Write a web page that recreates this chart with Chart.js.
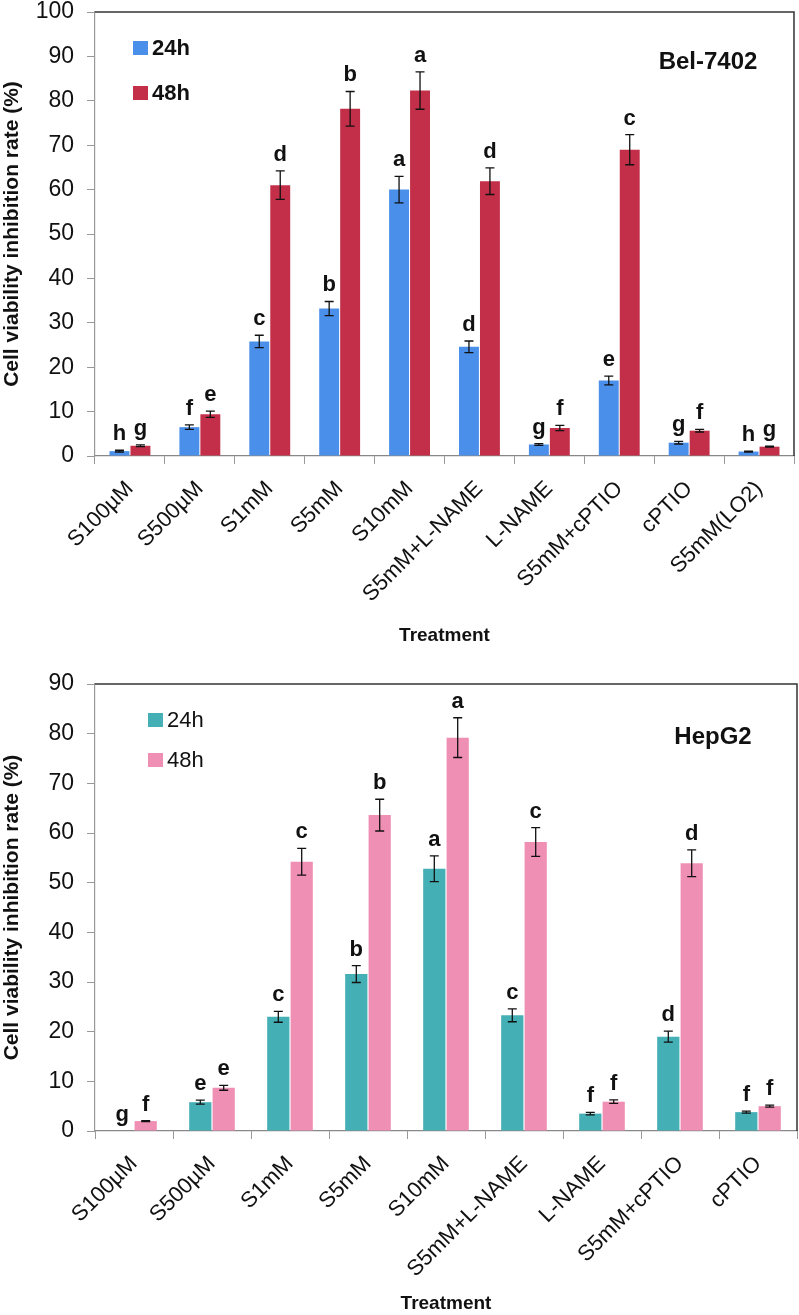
<!DOCTYPE html>
<html>
<head>
<meta charset="utf-8">
<script src="https://cdn.jsdelivr.net/npm/chart.js@4.4.1/dist/chart.umd.min.js"></script>
<style>
html, body { margin: 0; padding: 0; background: #fff; }
canvas { display: block; }
</style>
</head>
<body>
<canvas id="bel" width="799" height="660"></canvas>
<canvas id="hep" width="799" height="655"></canvas>
<script>
// Bel-7402 panel
const belLabels = ["S100\u00b5M", "S500\u00b5M", "S1mM", "S5mM", "S10mM", "S5mM+L-NAME", "L-NAME", "S5mM+cPTIO", "cPTIO", "S5mM(LO2)"]
const bel24 = [1.1, 6.5, 25.8, 33.2, 60.0, 24.6, 2.6, 17.0, 3.0, 1.0]
const bel24Err = [0.2, 0.5, 1.4, 1.6, 3.0, 1.3, 0.2, 1.0, 0.3, 0.1]
const bel24Sig = ["h", "f", "c", "b", "a", "d", "g", "e", "g", "h"]
const bel48 = [2.3, 9.4, 61.0, 78.2, 82.3, 61.9, 6.3, 69.0, 5.7, 2.1]
const bel48Err = [0.2, 0.7, 3.2, 3.9, 4.2, 3.0, 0.6, 3.4, 0.3, 0.1]
const bel48Sig = ["g", "e", "d", "b", "a", "d", "f", "c", "f", "g"]
const belTicks = [0, 10, 20, 30, 40, 50, 60, 70, 80, 90, 100]

// HepG2 panel
const hepLabels = ["S100\u00b5M", "S500\u00b5M", "S1mM", "S5mM", "S10mM", "S5mM+L-NAME", "L-NAME", "S5mM+cPTIO", "cPTIO"]
const hep24 = [0, 5.8, 23.0, 31.6, 52.8, 23.3, 3.5, 19.0, 3.8]
const hep24Err = [0, 0.4, 1.1, 1.7, 2.6, 1.3, 0.25, 1.1, 0.2]
const hep24Sig = ["g", "e", "c", "b", "a", "c", "f", "d", "f"]
const hep48 = [2.0, 8.7, 54.2, 63.6, 79.2, 58.2, 5.9, 53.9, 5.0]
const hep48Err = [0.1, 0.5, 2.7, 3.2, 4.0, 2.9, 0.35, 2.7, 0.2]
const hep48Sig = ["f", "e", "c", "b", "a", "c", "f", "d", "f"]
const hepTicks = [0, 10, 20, 30, 40, 50, 60, 70, 80, 90]

const FONT = "'Liberation Sans', Arial, sans-serif"

// error bars, significance letters, frame, legend and cell-line name
const marksPlugin = {
    id: "marks",
    afterDatasetsDraw(chart, args, opts) {
        const ctx = chart.ctx
        const y = chart.scales.y
        const area = chart.chartArea
        ctx.save()
        chart.data.datasets.forEach((ds, i) => {
            const meta = chart.getDatasetMeta(i)
            meta.data.forEach((bar, j) => {
                const v = ds.data[j]
                const e = opts.errors[i][j]
                const top = y.getPixelForValue(v + e)
                const bot = y.getPixelForValue(v - e)
                if (e > 0) {
                    ctx.strokeStyle = "#111"
                    ctx.lineWidth = 1.3
                    ctx.beginPath()
                    ctx.moveTo(bar.x, top)
                    ctx.lineTo(bar.x, bot)
                    ctx.moveTo(bar.x - 4.5, top)
                    ctx.lineTo(bar.x + 4.5, top)
                    ctx.moveTo(bar.x - 4.5, bot)
                    ctx.lineTo(bar.x + 4.5, bot)
                    ctx.stroke()
                }
                ctx.fillStyle = "#111"
                ctx.font = "bold 22px " + FONT
                ctx.textAlign = "center"
                ctx.textBaseline = "alphabetic"
                ctx.fillText(opts.letters[i][j], bar.x, top - 10)
            })
        })

        // top and right frame lines
        ctx.strokeStyle = "#333"
        ctx.lineWidth = 1.5
        ctx.beginPath()
        ctx.moveTo(area.left, area.top)
        ctx.lineTo(area.right, area.top)
        ctx.lineTo(area.right, area.bottom)
        ctx.stroke()

        // legend
        const lg = opts.legend
        chart.data.datasets.forEach((ds, i) => {
            const cy = area.top + lg.top + i * lg.gap
            ctx.fillStyle = ds.backgroundColor
            ctx.fillRect(area.left + lg.left, cy - 7, 15, 14)
            ctx.fillStyle = "#111"
            ctx.font = (lg.bold ? "bold " : "") + "22px " + FONT
            ctx.textAlign = "left"
            ctx.textBaseline = "middle"
            ctx.fillText(ds.label, area.left + lg.left + 19, cy + 1)
        })

        // cell line name
        ctx.font = "bold 24px " + FONT
        ctx.textAlign = "center"
        ctx.textBaseline = "middle"
        ctx.fillText(opts.cell.text, area.right - opts.cell.right, area.top + opts.cell.top)
        ctx.restore()
    },
}

function makeChart(id, labels, s24, s48, colors, ticks, max, layout, extra) {
    return new Chart(document.getElementById(id), {
        type: "bar",
        data: {
            labels: labels,
            datasets: [
                { label: "24h", data: s24, backgroundColor: colors[0], categoryPercentage: 0.6, barPercentage: 0.95 },
                { label: "48h", data: s48, backgroundColor: colors[1], categoryPercentage: 0.6, barPercentage: 0.95 },
            ],
        },
        options: {
            responsive: false,
            animation: false,
            layout: { padding: layout.padding },
            plugins: {
                legend: { display: false },
                tooltip: { enabled: false },
                marks: extra,
            },
            scales: {
                x: {
                    grid: { offset: true, drawOnChartArea: false, tickLength: 8, color: "#999" },
                    border: { color: "#888", width: 1.2 },
                    ticks: {
                        color: "#111",
                        font: { family: FONT, size: 22 },
                        minRotation: 45,
                        maxRotation: 45,
                        autoSkip: false,
                        padding: 12,
                    },
                    title: {
                        display: true,
                        text: "Treatment",
                        color: "#111",
                        font: { family: FONT, size: 19, weight: "bold" },
                        padding: 0,
                    },
                    afterFit: (s) => {
                        s.height = layout.xHeight
                        s.paddingLeft = 0
                        s.paddingRight = 0
                    },
                },
                y: {
                    min: 0,
                    max: max,
                    afterBuildTicks: (s) => { s.ticks = ticks.map(v => ({ value: v })) },
                    grid: { drawOnChartArea: false, tickLength: 8, color: "#999" },
                    border: { color: "#999", width: 1.2 },
                    ticks: {
                        color: "#111",
                        font: { family: FONT, size: 23 },
                        padding: 13,
                    },
                    title: {
                        display: true,
                        text: "Cell viability inhibition rate (%)",
                        color: "#111",
                        font: { family: FONT, size: 21, weight: "bold" },
                        padding: { top: 0, bottom: 0 },
                    },
                    afterFit: (s) => {
                        s.width = 95
                        s.paddingTop = 0
                        s.paddingBottom = 0
                    },
                },
            },
        },
        plugins: [marksPlugin],
    })
}

makeChart("bel", belLabels, bel24, bel48, ["#4A8FEA", "#C32E48"], belTicks, 100,
    { padding: { left: 0, top: 12, right: 5, bottom: 13 }, xHeight: 191 },
    {
        errors: [bel24Err, bel48Err],
        letters: [bel24Sig, bel48Sig],
        legend: { left: 38, top: 36, gap: 45, bold: true },
        cell: { text: "Bel-7402", right: 86, top: 50 },
    })

makeChart("hep", hepLabels, hep24, hep48, ["#44AFB4", "#F08FB4"], hepTicks, 90,
    { padding: { left: 0, top: 24, right: 2, bottom: 0 }, xHeight: 184 },
    {
        errors: [hep24Err, hep48Err],
        letters: [hep24Sig, hep48Sig],
        legend: { left: 53, top: 36, gap: 40, bold: false },
        cell: { text: "HepG2", right: 84, top: 53 },
    })
</script>
</body>
</html>
